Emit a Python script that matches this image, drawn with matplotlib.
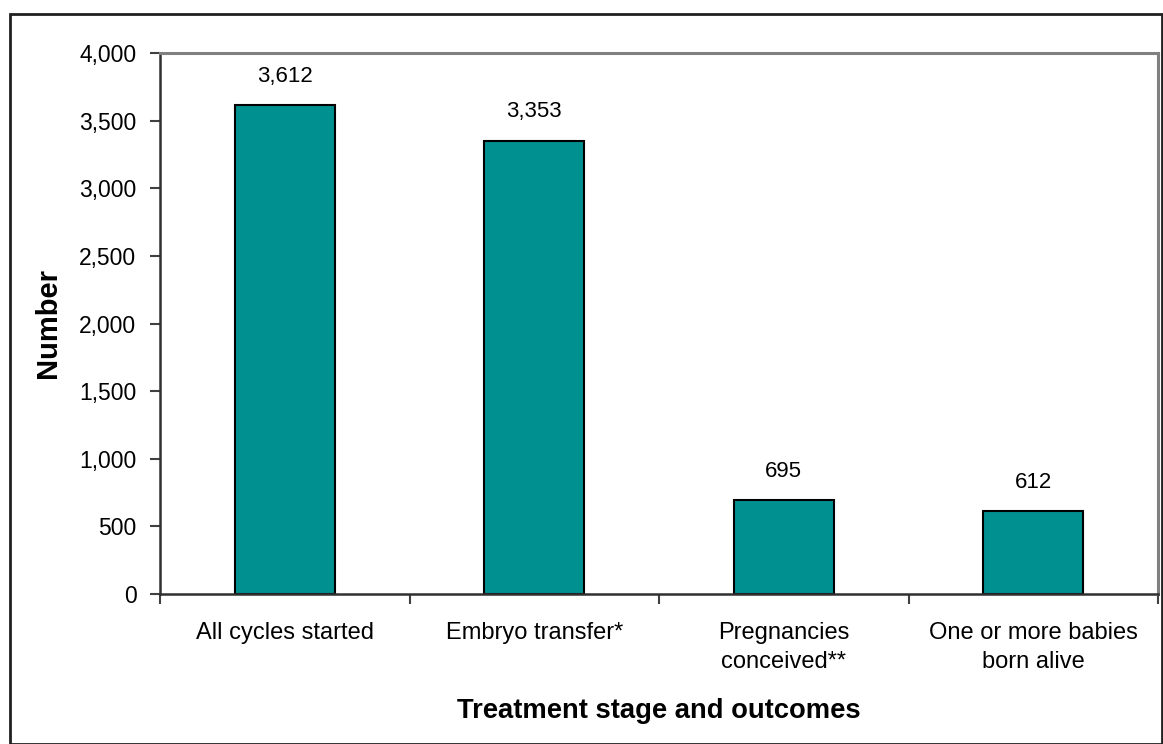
import numpy as np
import matplotlib
matplotlib.use('Agg')
import matplotlib.pyplot as plt
from matplotlib.patches import Rectangle
from matplotlib.ticker import FuncFormatter, MultipleLocator

plt.rcParams['font.family'] = ['Liberation Sans', 'DejaVu Sans']

stages = ['All cycles started', 'Embryo transfer*', 'Pregnancies\nconceived**',
          'One or more babies\nborn alive']
counts = [3612, 3353, 695, 612]

bar_color = '#009090'

fig = plt.figure(figsize=(11.63, 7.44), dpi=100)
ax = fig.add_axes([160 / 1163, 1 - 594 / 744, 998 / 1163, 541 / 744])

x = np.arange(len(stages))
bars = ax.bar(x, counts, width=0.4, color=bar_color, edgecolor='black', linewidth=1.5)

for xi, v in zip(x, counts):
    ax.annotate(f'{v:,}', (xi, v), xytext=(0, 13), textcoords='offset points',
                ha='center', va='bottom', fontsize=16)

ax.set_xlim(-0.5, len(stages) - 0.5)
ax.set_ylim(0, 4000)
ax.yaxis.set_major_locator(MultipleLocator(500))
ax.yaxis.set_major_formatter(FuncFormatter(lambda v, p: f'{int(v):,}'))

# category labels sit between boundary ticks
ax.set_xticks(np.arange(len(stages) + 1) - 0.5)
ax.set_xticklabels([])
ax.set_xticks(x, minor=True)
ax.set_xticklabels(stages, minor=True, fontsize=17, linespacing=1.45)
ax.tick_params(axis='x', which='minor', length=0, pad=20)
ax.tick_params(axis='x', which='major', length=7, width=1.5, direction='out', color='#404040')
ax.tick_params(axis='y', length=7, width=1.5, direction='out', color='#404040',
               labelsize=16.5, pad=10)

for side in ['left', 'bottom']:
    ax.spines[side].set_color('#303030')
    ax.spines[side].set_linewidth(1.8)
for side in ['top', 'right']:
    ax.spines[side].set_color('#808080')
    ax.spines[side].set_linewidth(2.2)

ax.set_ylabel('Number', fontsize=21, fontweight='bold', labelpad=12)
ax.set_xlabel('Treatment stage and outcomes', fontsize=19.7, fontweight='bold', labelpad=18)

# outer chart frame
fig.patches.append(Rectangle((10 / 1163, 0.5 / 744), 1152 / 1163, 730 / 744,
                             transform=fig.transFigure, fill=False,
                             edgecolor='#202020', linewidth=2))

fig.savefig('out.png', dpi=100)
